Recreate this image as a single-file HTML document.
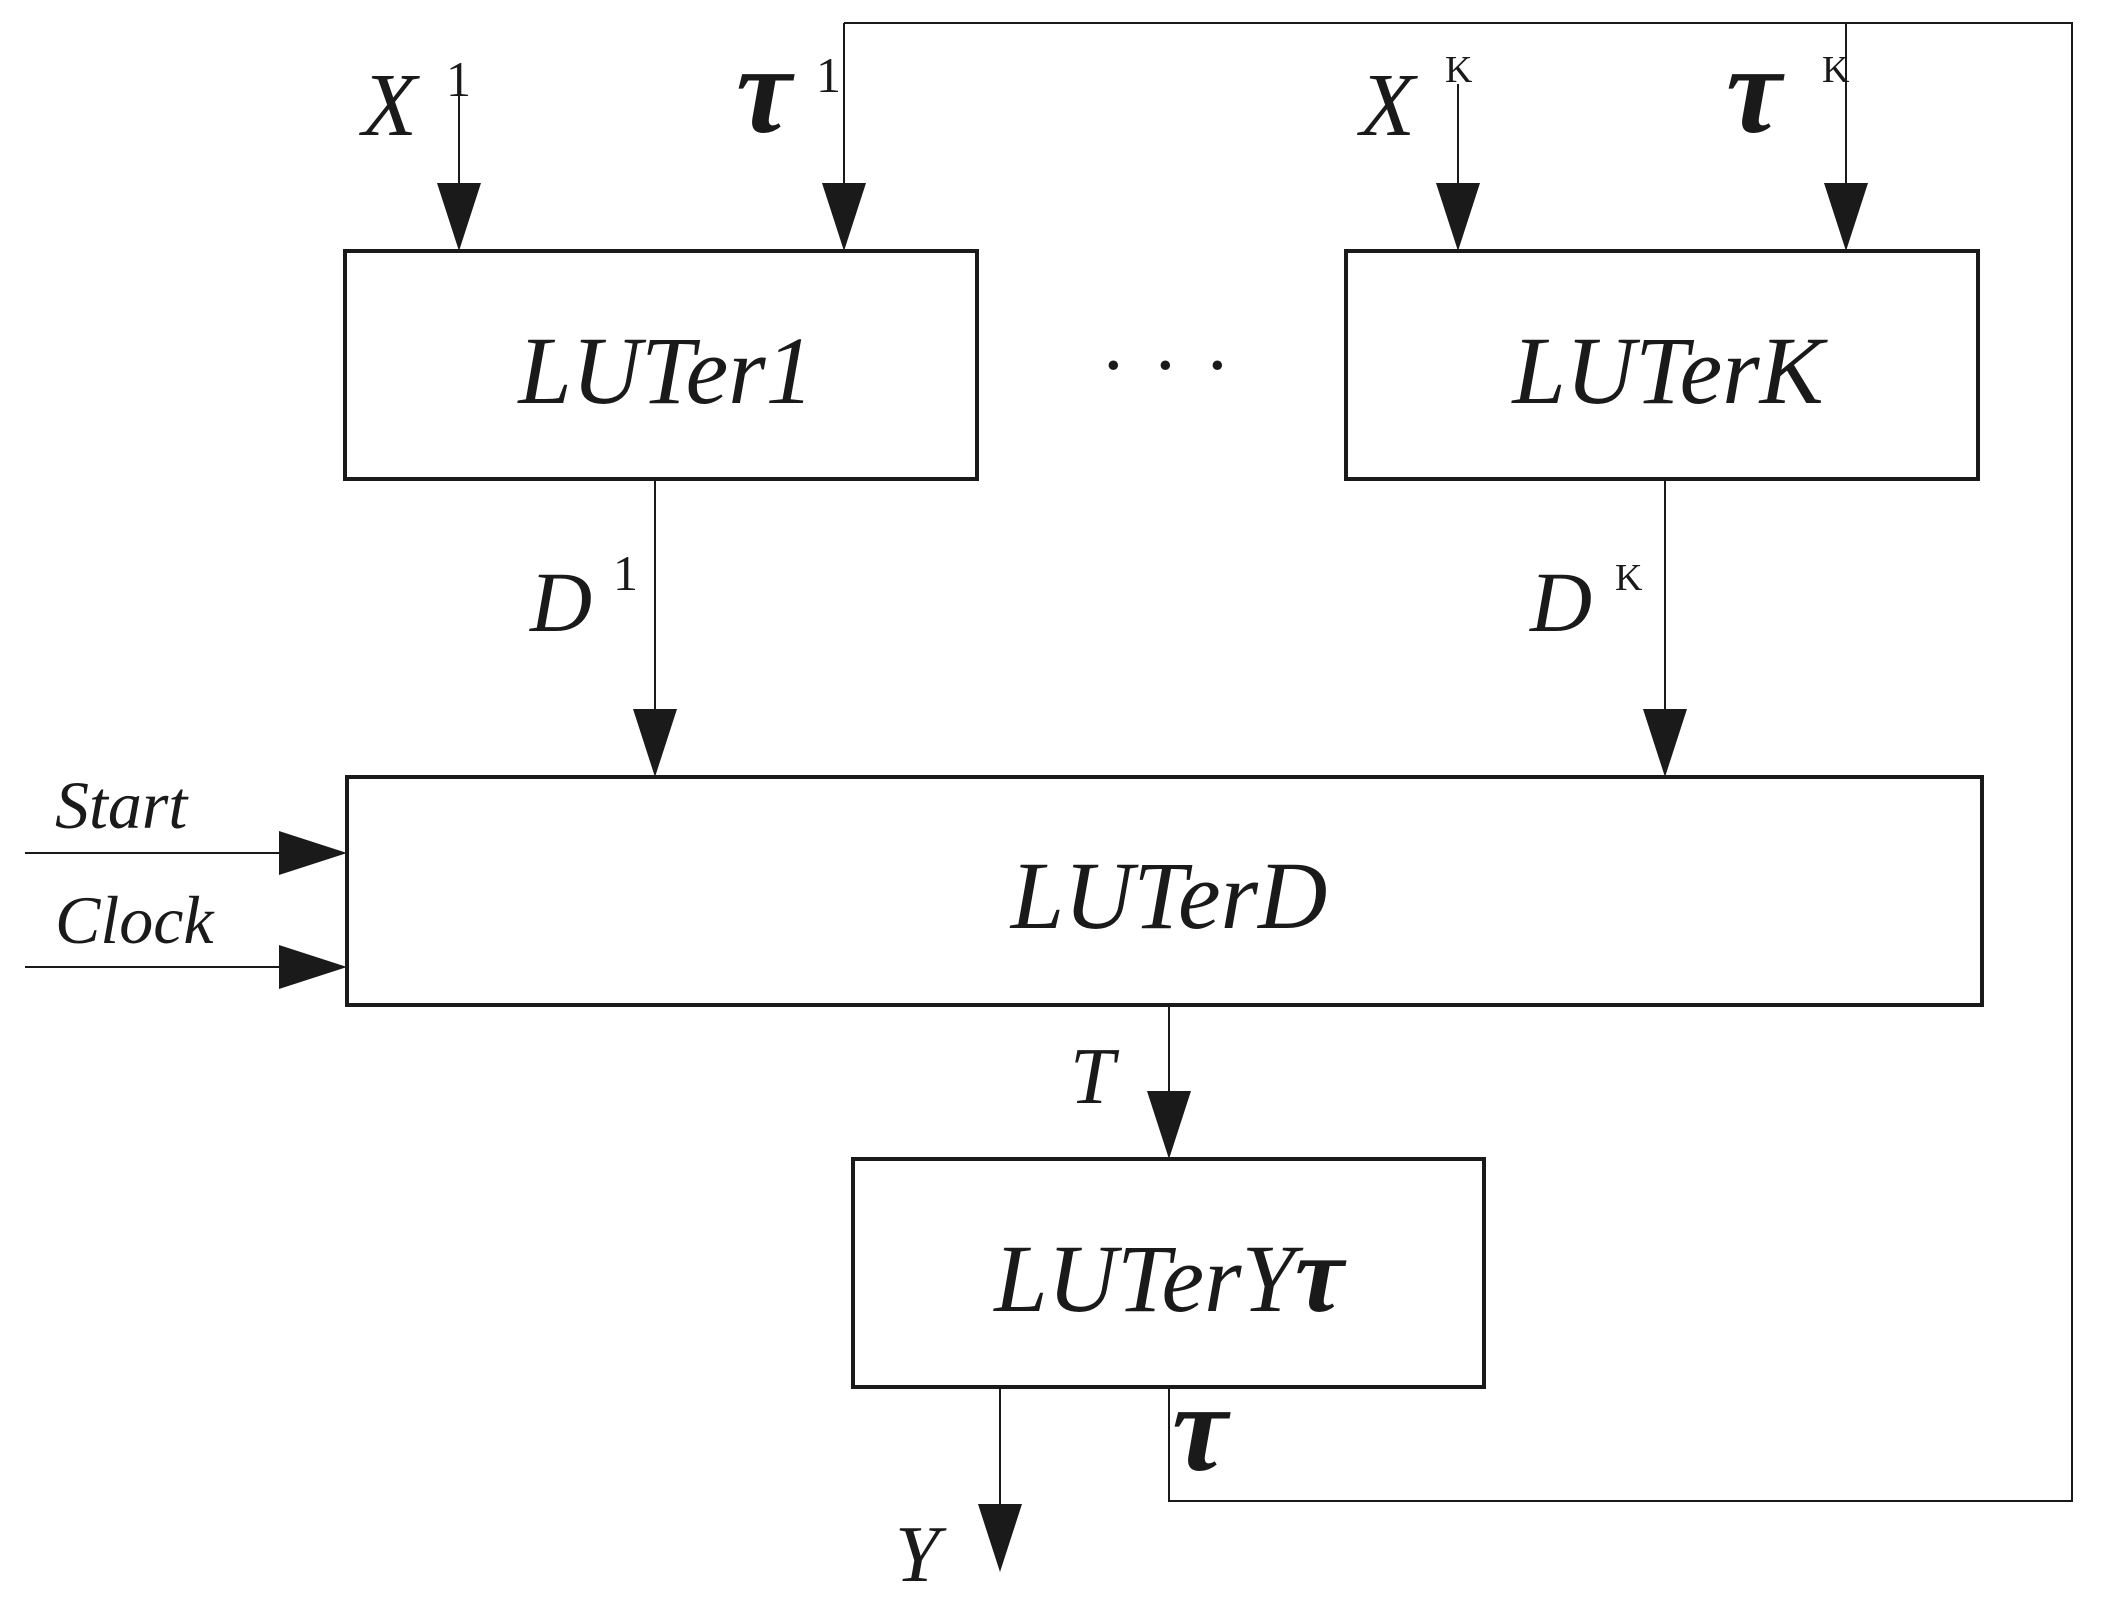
<!DOCTYPE html>
<html><head><style>html,body{margin:0;padding:0;background:#fff}svg{display:block}</style></head>
<body>
<svg width="2105" height="1597" viewBox="0 0 2105 1597" xmlns="http://www.w3.org/2000/svg" font-family="Liberation Serif, serif" fill="#1a1a1a">
<g fill="none" stroke="#1a1a1a">
<rect x="345" y="251" width="632" height="228" stroke-width="4"/>
<rect x="1346" y="251" width="632" height="228" stroke-width="4"/>
<rect x="347" y="777" width="1635" height="228" stroke-width="4"/>
<rect x="853" y="1159" width="631" height="228" stroke-width="4"/>
<g stroke-width="2">
<line x1="459" y1="84" x2="459" y2="200"/>
<line x1="844" y1="23" x2="844" y2="200"/>
<line x1="1458" y1="84" x2="1458" y2="200"/>
<line x1="1846" y1="23" x2="1846" y2="200"/>
<polyline points="844,23 2072,23 2072,1501 1169,1501 1169,1387"/>
<line x1="655" y1="479" x2="655" y2="720"/>
<line x1="1665" y1="479" x2="1665" y2="720"/>
<line x1="25" y1="853" x2="290" y2="853"/>
<line x1="25" y1="967" x2="290" y2="967"/>
<line x1="1169" y1="1005" x2="1169" y2="1100"/>
<line x1="1000" y1="1387" x2="1000" y2="1520"/>
</g></g>
<g>
<polygon points="437,183 481,183 459,251"/>
<polygon points="822,183 866,183 844,251"/>
<polygon points="1436,183 1480,183 1458,251"/>
<polygon points="1824,183 1868,183 1846,251"/>
<polygon points="633,709 677,709 655,777"/>
<polygon points="1643,709 1687,709 1665,777"/>
<polygon points="279,831 279,875 347,853"/>
<polygon points="279,945 279,989 347,967"/>
<polygon points="1147,1091 1191,1091 1169,1159"/>
<polygon points="978,1504 1022,1504 1000,1572"/>
</g>
<g font-style="italic">
<text x="666" y="403" font-size="96" text-anchor="middle">LUTer1</text>
<text x="1668" y="403" font-size="96" text-anchor="middle">LUTerK</text>
<text x="1169" y="928" font-size="96" text-anchor="middle">LUTerD</text>
<text x="1169" y="1311" font-size="96" text-anchor="middle">LUTerY<tspan font-weight="bold" font-size="110">τ</tspan></text>
<text x="362" y="135" font-size="90">X</text>
<text x="1360" y="135" font-size="90">X</text>
<text x="530" y="631" font-size="86">D</text>
<text x="1530" y="631" font-size="86">D</text>
<text x="55" y="828" font-size="68">Start</text>
<text x="55" y="943" font-size="68">Clock</text>
<text x="1070" y="1103" font-size="80">T</text>
<text x="895" y="1581" font-size="80">Y</text>
</g>
<g font-size="50">
<text x="446" y="96">1</text><text x="816" y="92">1</text>
<text x="1445" y="82" font-size="38">K</text><text x="1822" y="82" font-size="38">K</text>
<text x="613" y="590">1</text><text x="1615" y="590" font-size="38">K</text>
</g>
<g font-size="125" font-weight="bold" font-style="italic">
<text x="736" y="132">τ</text>
<text x="1726" y="132">τ</text>
<text x="1172" y="1470">τ</text>
</g>
<g font-size="80"><text x="1100" y="392">·</text><text x="1152" y="392">·</text><text x="1204" y="392">·</text></g>
</svg>
</body></html>
